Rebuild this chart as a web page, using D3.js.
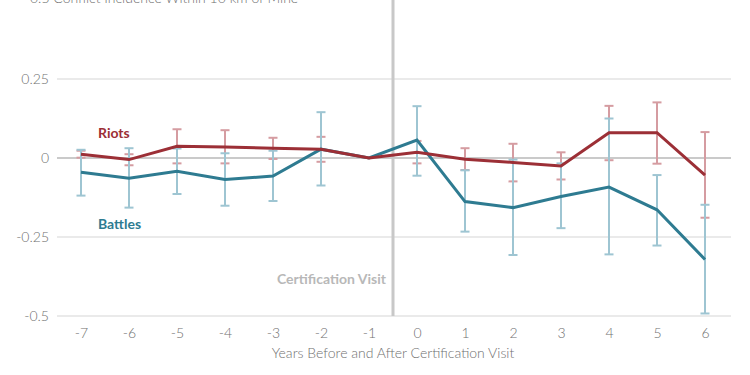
<!DOCTYPE html>
<html>
<head>
<meta charset="utf-8">
<script src="https://cdn.jsdelivr.net/npm/d3@7"></script>
<style>
body { margin:0; background:#fff; }
svg text { font-family: Lato, "Open Sans", sans-serif; }
</style>
</head>
<body>
<svg id="chart" width="750" height="375"></svg>
<script>

// years relative to the certification visit
var years = [-7, -6, -5, -4, -3, -2, -1, 0, 1, 2, 3, 4, 5, 6];

var riots     = [0.012, -0.005, 0.037, 0.035, 0.031, 0.028, 0, 0.018, -0.004, -0.014, -0.025, 0.080, 0.080, -0.054];
var riotsHi   = [0.023, 0.012, 0.091, 0.088, 0.064, 0.067, null, 0.054, 0.031, 0.045, 0.018, 0.165, 0.176, 0.082];
var riotsLo   = [0.001, -0.023, -0.017, -0.017, -0.003, -0.012, null, -0.017, -0.038, -0.074, -0.068, -0.007, -0.018, -0.189];

var battles   = [-0.045, -0.064, -0.042, -0.068, -0.057, 0.028, 0, 0.057, -0.138, -0.157, -0.122, -0.092, -0.164, -0.321];
var battlesHi = [0.026, 0.031, 0.030, 0.015, 0.023, 0.145, null, 0.164, -0.039, -0.005, -0.017, 0.125, -0.054, -0.148];
var battlesLo = [-0.119, -0.157, -0.114, -0.151, -0.136, -0.087, null, -0.056, -0.233, -0.307, -0.222, -0.305, -0.277, -0.492];

var yTicks = [0.25, 0, -0.25, -0.5];
var yTickLabels = ["0.25", "0", "-0.25", "-0.5"];

var red = "#9c2f36", redLight = "#d59ca1";
var blue = "#2e7b91", blueLight = "#9ec5d2";

var svg = d3.select("#chart");

var x = d3.scaleLinear().domain([-7.5, 6.5]).range([57, 729]);
var y = d3.scaleLinear().domain([-0.5, 0.5]).range([316, 0]);

// gridlines
svg.selectAll(".grid")
	.data(yTicks)
	.enter().append("line")
	.attr("x1", x(-7.5)).attr("x2", x(6.5) + 2)
	.attr("y1", function(d){ return y(d); })
	.attr("y2", function(d){ return y(d); })
	.attr("stroke", function(d){ return d === 0 ? "#cacaca" : "#d6d6d6"; })
	.attr("stroke-width", function(d){ return d === 0 ? 2 : 1.2; });

// y tick labels
svg.selectAll(".ylab")
	.data(yTicks)
	.enter().append("text")
	.attr("x", 49)
	.attr("y", function(d){ return y(d) + 5; })
	.attr("text-anchor", "end")
	.attr("font-size", 14)
	.attr("font-weight", 300)
	.attr("fill", "#707070")
	.text(function(d, i){ return yTickLabels[i]; });

// axis title up top (cut off by the frame like the original)
svg.append("text")
	.attr("x", 30).attr("y", 3)
	.attr("font-size", 14)
	.attr("font-weight", 300)
	.attr("fill", "#707070")
	.text("0.5 Conflict Incidence Within 10 km of Mine");

// certification visit marker
svg.append("line")
	.attr("x1", x(-0.5)).attr("x2", x(-0.5))
	.attr("y1", 0).attr("y2", y(-0.5))
	.attr("stroke", "#c8c8c8")
	.attr("stroke-width", 3);

svg.append("text")
	.attr("x", 386).attr("y", 284)
	.attr("text-anchor", "end")
	.attr("font-size", 14)
	.attr("font-weight", 700)
	.attr("fill", "#b8b8b8")
	.text("Certification Visit");

// x tick labels
var xAxis = d3.axisBottom(x).tickValues(years).tickSize(0).tickPadding(0)
	.tickFormat(function(d){ return d3.format("d")(d).replace("\u2212", "-"); });
var gx = svg.append("g").attr("transform", "translate(0,328)").call(xAxis);
gx.select(".domain").remove();
gx.selectAll("text")
	.attr("dy", "0.71em")
	.attr("font-size", 14)
	.attr("font-weight", 300)
	.attr("fill", "#707070")
	.style("font-family", "Lato, sans-serif");

svg.append("text")
	.attr("x", 393).attr("y", 358)
	.attr("text-anchor", "middle")
	.attr("font-size", 14)
	.attr("font-weight", 300)
	.attr("fill", "#707070")
	.text("Years Before and After Certification Visit");

function drawErrorBars(hi, lo, color){
	var rows = years.map(function(yr, i){ return {yr:yr, hi:hi[i], lo:lo[i]}; })
		.filter(function(d){ return d.hi !== null; });
	var g = svg.append("g").attr("stroke", color).attr("stroke-width", 2);
	g.selectAll(".bar").data(rows).enter().append("line")
		.attr("x1", function(d){ return x(d.yr); })
		.attr("x2", function(d){ return x(d.yr); })
		.attr("y1", function(d){ return y(d.hi); })
		.attr("y2", function(d){ return y(d.lo); });
	["hi", "lo"].forEach(function(k){
		g.selectAll(".cap-" + k).data(rows).enter().append("line")
			.attr("x1", function(d){ return x(d.yr) - 4.5; })
			.attr("x2", function(d){ return x(d.yr) + 4.5; })
			.attr("y1", function(d){ return y(d[k]); })
			.attr("y2", function(d){ return y(d[k]); });
	});
}

drawErrorBars(riotsHi, riotsLo, redLight);
drawErrorBars(battlesHi, battlesLo, blueLight);

var line = d3.line()
	.x(function(d){ return x(d[0]); })
	.y(function(d){ return y(d[1]); });

svg.append("path")
	.datum(d3.zip(years, battles))
	.attr("fill", "none")
	.attr("stroke", blue)
	.attr("stroke-width", 3)
	.attr("d", line);

svg.append("path")
	.datum(d3.zip(years, riots))
	.attr("fill", "none")
	.attr("stroke", red)
	.attr("stroke-width", 3)
	.attr("d", line);

// series labels
svg.append("text")
	.attr("x", 98).attr("y", 138)
	.attr("font-size", 14).attr("font-weight", 700)
	.attr("fill", red)
	.text("Riots");

svg.append("text")
	.attr("x", 98).attr("y", 229)
	.attr("font-size", 14).attr("font-weight", 700)
	.attr("fill", blue)
	.text("Battles");

</script>
</body>
</html>
